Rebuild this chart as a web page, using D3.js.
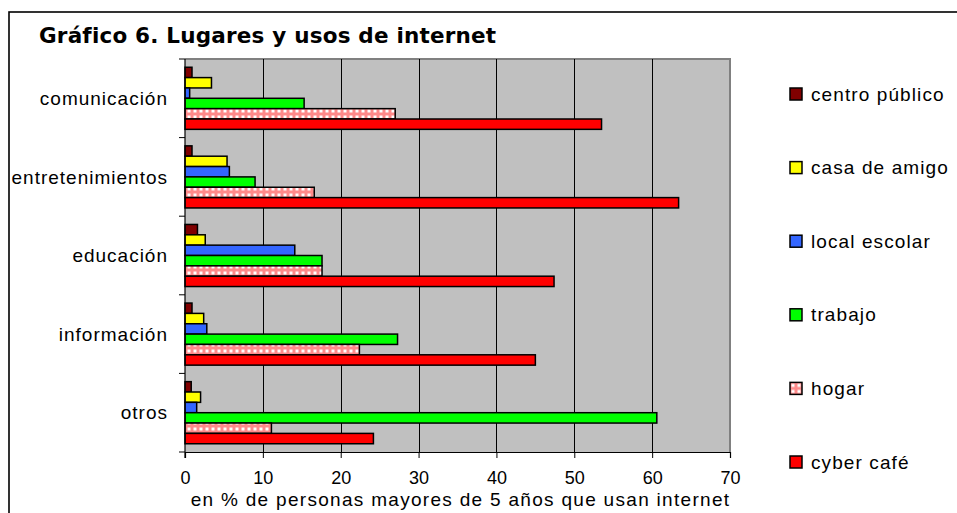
<!DOCTYPE html>
<html>
<head>
<meta charset="utf-8">
<script src="https://cdnjs.cloudflare.com/ajax/libs/d3/7.8.5/d3.min.js"></script>
<style>
    body { margin: 0; background: #ffffff; }
    svg { display: block; }
</style>
</head>
<body>
<div class="chart"></div>
<script>
var categories = ["comunicación", "entretenimientos", "educación", "información", "otros"];
var seriesNames = ["centro público", "casa de amigo", "local escolar", "trabajo", "hogar", "cyber café"];
var seriesColors = ["#800000", "#FFFF00", "#3366FF", "#00FF00", "url(#hogarPattern)", "#FF0000"];
// values per category, same order as seriesNames
var centroPublico = [0.9, 0.9, 1.6, 0.9, 0.8];
var casaDeAmigo = [3.4, 5.4, 2.6, 2.4, 2.0];
var localEscolar = [0.6, 5.7, 14.1, 2.8, 1.5];
var trabajo = [15.3, 9.0, 17.6, 27.3, 60.6];
var hogar = [27.0, 16.6, 17.6, 22.4, 11.1];
var cyberCafe = [53.5, 63.4, 47.4, 45.0, 24.2];
var xTicks = [0, 10, 20, 30, 40, 50, 60, 70];

var seriesValues = [centroPublico, casaDeAmigo, localEscolar, trabajo, hogar, cyberCafe];

(function () {
    var width = 957, height = 513;
    var plot = { left: 185, right: 730, top: 59, bottom: 452 };
    var font = "'Liberation Sans', Arial, sans-serif";

    var svg = d3.select(".chart").append("svg")
        .attr("width", width)
        .attr("height", height);

    var defs = svg.append("defs");
    var pat = defs.append("pattern")
        .attr("id", "hogarPattern")
        .attr("patternUnits", "userSpaceOnUse")
        .attr("width", 6)
        .attr("height", 6);
    pat.append("rect").attr("width", 6).attr("height", 6).attr("fill", "#FF8A8A");
    pat.append("rect").attr("x", 1.5).attr("y", 1.5).attr("width", 3).attr("height", 3).attr("fill", "#ffffff");

    // outer frame
    svg.append("rect")
        .attr("x", 9).attr("y", 12)
        .attr("width", 970).attr("height", 520)
        .attr("fill", "none")
        .attr("stroke", "#000000")
        .attr("stroke-width", 1.6);

    svg.append("text")
        .attr("x", 39).attr("y", 43)
        .attr("font-family", "'DejaVu Sans', Verdana, sans-serif")
        .attr("font-weight", "bold")
        .attr("font-size", 21.5)
        .attr("letter-spacing", 0.2)
        .attr("fill", "#000000")
        .text("Gráfico 6. Lugares y usos de internet");

    var x = d3.scaleLinear().domain([0, 70]).range([plot.left, plot.right]);
    var y0 = d3.scaleBand().domain(categories).range([plot.top, plot.bottom])
        .paddingInner(0.21).paddingOuter(0.105);
    var y1 = d3.scaleBand().domain(seriesNames).range([0, y0.bandwidth()]);

    /*
        Plot area
    */
    svg.append("rect")
        .attr("x", plot.left).attr("y", plot.top)
        .attr("width", plot.right - plot.left).attr("height", plot.bottom - plot.top)
        .attr("fill", "#C0C0C0");
    svg.append("path")
        .attr("d", "M" + plot.left + "," + plot.top + "H" + plot.right + "V" + plot.bottom)
        .attr("fill", "none")
        .attr("stroke", "#808080")
        .attr("stroke-width", 2);

    svg.append("g").selectAll("line")
        .data(xTicks.filter(function (t) { return t > 0 && t < 70; }))
        .enter().append("line")
        .attr("x1", function (d) { return Math.round(x(d)) + 0.5; })
        .attr("x2", function (d) { return Math.round(x(d)) + 0.5; })
        .attr("y1", plot.top)
        .attr("y2", plot.bottom)
        .attr("stroke", "#000000")
        .attr("stroke-width", 1);

    /*
        Bars
    */
    var rows = [];
    for (var c = 0; c < categories.length; c++) {
        for (var s = 0; s < seriesNames.length; s++) {
            rows.push({ cat: categories[c], series: seriesNames[s], color: seriesColors[s], value: seriesValues[s][c] });
        }
    }
    svg.append("g").selectAll("rect")
        .data(rows)
        .enter().append("rect")
        .attr("x", x(0))
        .attr("y", function (d) { return y0(d.cat) + y1(d.series); })
        .attr("width", function (d) { return x(d.value) - x(0); })
        .attr("height", y1.bandwidth())
        .attr("fill", function (d) { return d.color; })
        .attr("stroke", "#000000")
        .attr("stroke-width", 1.5);

    /*
        Axes
    */
    var xAxis = d3.axisBottom(x).tickValues(xTicks).tickSize(6).tickPadding(13);
    var gx = svg.append("g")
        .attr("transform", "translate(0," + plot.bottom + ")")
        .call(xAxis);
    gx.select(".domain").attr("stroke", "#000000").attr("stroke-width", 1.2);
    gx.selectAll(".tick line").attr("stroke", "#000000");
    gx.selectAll(".tick text")
        .attr("font-family", font)
        .attr("font-size", 18)
        .attr("fill", "#000000");

    var boundaries = [plot.top];
    categories.forEach(function (cat) { boundaries.push(y0(cat) + y0.bandwidth() + y0.step() * 0.105); });
    svg.append("line")
        .attr("x1", plot.left).attr("x2", plot.left)
        .attr("y1", plot.top).attr("y2", plot.bottom + 6)
        .attr("stroke", "#000000").attr("stroke-width", 1.2);
    svg.append("g").selectAll("line")
        .data(boundaries)
        .enter().append("line")
        .attr("x1", plot.left - 6).attr("x2", plot.left)
        .attr("y1", function (d) { return d; })
        .attr("y2", function (d) { return d; })
        .attr("stroke", "#000000");

    svg.append("g").selectAll("text")
        .data(categories)
        .enter().append("text")
        .attr("x", 168)
        .attr("y", function (d) { return y0(d) + y0.bandwidth() / 2; })
        .attr("dy", ".35em")
        .attr("text-anchor", "end")
        .attr("font-family", font)
        .attr("font-size", 19)
        .attr("letter-spacing", 1)
        .attr("fill", "#000000")
        .text(function (d) { return d; });

    svg.append("text")
        .attr("x", (plot.left + plot.right) / 2 + 3)
        .attr("y", 506)
        .attr("text-anchor", "middle")
        .attr("font-family", font)
        .attr("font-size", 19)
        .attr("letter-spacing", 1.3)
        .attr("fill", "#000000")
        .text("en % de personas mayores de 5 años que usan internet");

    /*
        Legend
    */
    var legend = svg.append("g").selectAll("g")
        .data(seriesNames)
        .enter().append("g")
        .attr("transform", function (d, i) { return "translate(790," + (94 + i * 73.6) + ")"; });
    legend.append("rect")
        .attr("x", 0).attr("y", -6)
        .attr("width", 12).attr("height", 12)
        .attr("fill", function (d, i) { return seriesColors[i]; })
        .attr("stroke", "#000000")
        .attr("stroke-width", 1.5);
    legend.append("text")
        .attr("x", 21).attr("y", 0)
        .attr("dy", ".35em")
        .attr("font-family", font)
        .attr("font-size", 19)
        .attr("letter-spacing", 1.1)
        .attr("fill", "#000000")
        .text(function (d) { return d; });
})();
</script>
</body>
</html>
